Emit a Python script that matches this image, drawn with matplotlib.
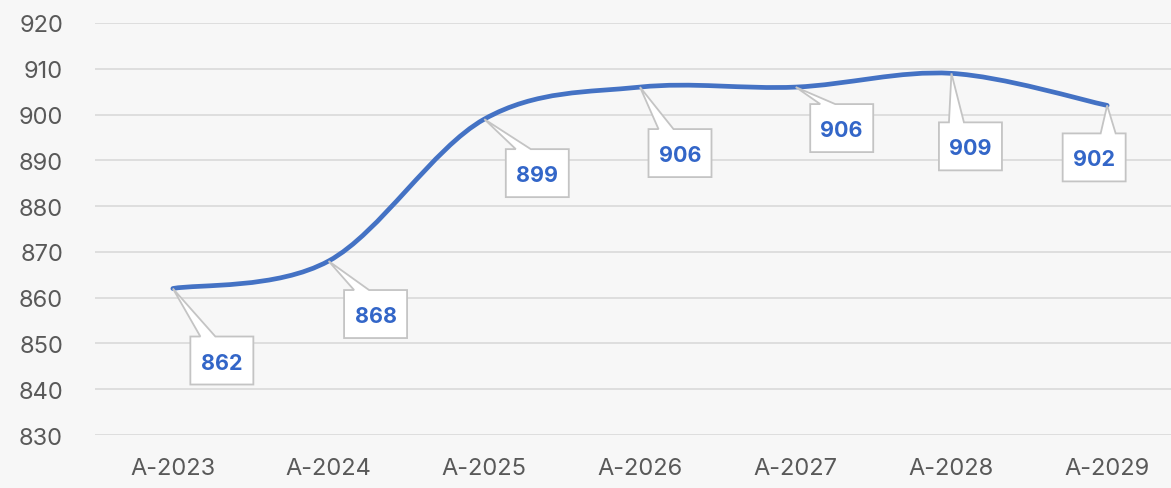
import numpy as np
import matplotlib.pyplot as plt
from matplotlib.path import Path
from matplotlib.patches import PathPatch
from matplotlib.transforms import ScaledTranslation

# données
annees = ["A-2023", "A-2024", "A-2025", "A-2026", "A-2027", "A-2028", "A-2029"]
valeurs = [862, 868, 899, 906, 906, 909, 902]
y_ticks = [830, 840, 850, 860, 870, 880, 890, 900, 910, 920]

# centre des bulles (pixels) par rapport au point
decalages = [(49, -72), (47, -53), (53, -54), (40, -66), (46, -41), (19, -73), (-13, -52)]

bleu = "#4472C4"
fond = "#F7F7F7"
gris_bord = "#C4C4C4"

plt.rcParams['font.family'] = ['Inter', 'DejaVu Sans']

fig = plt.figure(figsize=(11.71, 4.89), dpi=100, facecolor=fond)
ax = fig.add_axes([95 / 1171, 53 / 489, 1 - 95 / 1171, 412 / 489])
ax.set_facecolor(fond)

x = np.arange(len(valeurs))
y = np.array(valeurs, dtype=float)

# courbe lissée (Bézier, type Catmull-Rom)
pts = np.column_stack([x, y])
verts = [pts[0]]
codes = [Path.MOVETO]
for i in range(len(pts) - 1):
    p0 = pts[max(i - 1, 0)]
    p1 = pts[i]
    p2 = pts[i + 1]
    p3 = pts[min(i + 2, len(pts) - 1)]
    c1 = p1 + (p2 - p0) / 6
    c2 = p2 - (p3 - p1) / 6
    verts += [c1, c2, p2]
    codes += [Path.CURVE4] * 3
ax.add_patch(PathPatch(Path(verts, codes), fc="none", ec=bleu, lw=3.4,
                       capstyle="round", joinstyle="round", zorder=3))

# bulles : rectangle + pointe vers le point (en pixels)
lb, hb = 63, 48
for xi, yi, (dx, dy) in zip(x, valeurs, decalages):
    g, d = dx - lb / 2, dx + lb / 2
    haut, bas = dy + hb / 2, dy - hb / 2
    if dx > 0:
        b1, b2 = g + 10, g + 25
    else:
        b1, b2 = d - 25, d - 10
    forme = Path([(g, haut), (b1, haut), (0, 0), (b2, haut), (d, haut),
                  (d, bas), (g, bas), (g, haut)], closed=True)
    tr = ScaledTranslation(xi, yi, ax.transData)
    ax.add_patch(PathPatch(forme, fc="white", ec=gris_bord, lw=1.3,
                           transform=tr, zorder=4, clip_on=False))
    ax.annotate(str(yi), xy=(xi, yi), xytext=(dx, dy), textcoords="offset pixels",
                ha="center", va="center_baseline", fontsize=15.5, fontweight="bold",
                color="#3366C8", zorder=5)

ax.set_xlim(-0.5, 6.41)
ax.set_ylim(830, 920)
ax.set_yticks(y_ticks)
ax.set_xticks(x)
ax.set_xticklabels(annees)
ax.grid(axis="y", color="#D9D9D9", lw=1.2)
ax.set_axisbelow(True)
for s in ax.spines.values():
    s.set_visible(False)
ax.tick_params(length=0, labelsize=17, labelcolor="#595959")
ax.tick_params(axis="y", pad=23)
ax.tick_params(axis="x", pad=16)

fig.savefig("out.png", dpi=100, facecolor=fond)
